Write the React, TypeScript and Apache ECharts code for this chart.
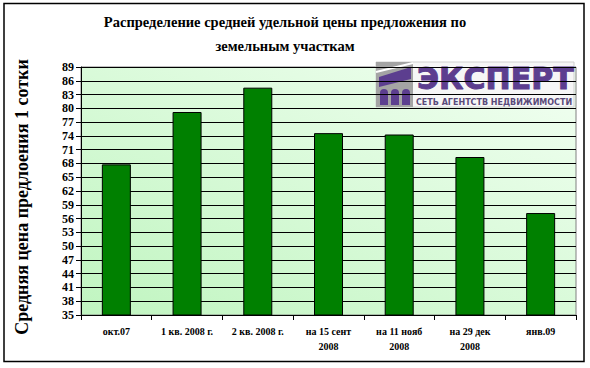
import React, { useEffect, useRef } from "react";
import * as echarts from "echarts";

const categories = [
  "окт.07",
  "1 кв. 2008 г.",
  "2 кв. 2008 г.",
  "на 15 сент\n2008",
  "на 11 нояб\n2008",
  "на 29 дек\n2008",
  "янв.09",
];
const values = [67.8, 79.2, 84.5, 74.6, 74.3, 69.4, 57.2];
const yMin = 35;
const yMax = 89;
const yStep = 3;
const titleText = "Распределение средней удельной цены предложения по\nземельным участкам";
const yName = "Средняя цена предлоения 1 сотки";
const logoMain = "ЭКСПЕРТ";
const logoSub = "СЕТЬ АГЕНТСТВ НЕДВИЖИМОСТИ";

const serif = "Liberation Serif";
const purple = "#5c3e8f";

export default function App() {
  const ref = useRef<HTMLDivElement>(null);
  useEffect(() => {
    document.body.style.margin = "0";
    const chart = echarts.init(ref.current!, null, { renderer: "svg" });
    chart.setOption({
      animation: false,
      backgroundColor: "#ffffff",
      title: {
        text: titleText,
        left: 280,
        top: 5,
        textAlign: "center",
        textStyle: {
          fontFamily: serif,
          fontSize: 14.5,
          fontWeight: "bold",
          color: "#000",
          lineHeight: 24,
        },
      },
      grid: {
        left: 81,
        top: 67,
        right: 14,
        bottom: 53,
        show: true,
        borderColor: "#808080",
        borderWidth: 1,
        backgroundColor: new echarts.graphic.LinearGradient(0, 1, 1, 0, [
          { offset: 0, color: "#c0f5c0" },
          { offset: 1, color: "#f2fff2" },
        ]),
      },
      xAxis: {
        type: "category",
        data: categories,
        axisLine: { lineStyle: { color: "#000", width: 1 } },
        axisTick: { show: true, length: 5, lineStyle: { color: "#000" } },
        axisLabel: {
          fontFamily: serif,
          fontSize: 10,
          fontWeight: "bold",
          color: "#000",
          lineHeight: 15,
          margin: 9,
          interval: 0,
        },
      },
      yAxis: {
        type: "value",
        min: yMin,
        max: yMax,
        interval: yStep,
        name: yName,
        nameLocation: "middle",
        nameRotate: 90,
        nameGap: 50,
        nameTextStyle: {
          fontFamily: serif,
          fontSize: 18,
          fontWeight: "bold",
          color: "#000",
          padding: [0, 0, 0, -12],
        },
        axisLine: { show: true, lineStyle: { color: "#000", width: 1 } },
        axisTick: { show: true, length: 5, lineStyle: { color: "#000" } },
        axisLabel: {
          fontFamily: serif,
          fontSize: 12,
          fontWeight: "bold",
          color: "#000",
          margin: 7,
        },
        splitLine: { show: true, lineStyle: { color: "#000", width: 1 } },
      },
      series: [
        {
          type: "bar",
          data: values,
          barWidth: 29,
          itemStyle: { color: "#008000", borderColor: "#000", borderWidth: 1 },
        },
      ],
      graphic: [
        {
          type: "rect",
          shape: { x: 4, y: 3.5, width: 580, height: 358 },
          style: { fill: "none", stroke: "#000", lineWidth: 1.5 },
          z: 100,
        },
        {
          type: "group",
          x: 376,
          y: 62,
          z: 50,
          children: [
            {
              type: "rect",
              shape: { x: 0, y: 0, width: 198, height: 45 },
              style: { fill: "#f6f6f6", stroke: "#d0d0d0", lineWidth: 1 },
            },
            {
              type: "rect",
              shape: { x: 0, y: 0, width: 37, height: 45 },
              style: { fill: "#a4a4a4" },
            },
            {
              type: "polygon",
              shape: { points: [[3, 15], [35, 5], [35, 17], [3, 25]] },
              style: { fill: purple },
            },
            {
              type: "line",
              shape: { x1: 0, y1: 10, x2: 37, y2: 1 },
              style: { stroke: "#ffffff", lineWidth: 2 },
            },
            {
              type: "rect",
              shape: { x: 4, y: 27, width: 8, height: 16, r: [4, 4, 0, 0] },
              style: { fill: purple },
            },
            {
              type: "rect",
              shape: { x: 15, y: 27, width: 8, height: 16, r: [4, 4, 0, 0] },
              style: { fill: purple },
            },
            {
              type: "rect",
              shape: { x: 26, y: 27, width: 8, height: 16, r: [4, 4, 0, 0] },
              style: { fill: purple },
            },
            {
              type: "text",
              x: 41,
              y: 1,
              style: {
                text: logoMain,
                fontFamily: "DejaVu Sans",
                fontSize: 30,
                fontWeight: "bold",
                fill: purple,
                stroke: purple,
                lineWidth: 1,
              },
            },
            {
              type: "text",
              x: 40,
              y: 36,
              style: {
                text: logoSub,
                fontFamily: "DejaVu Sans",
                fontSize: 8,
                fontWeight: "bold",
                fill: "#5a4a7a",
              },
            },
          ],
        },
      ],
    });
    return () => chart.dispose();
  }, []);
  return <div ref={ref} style={{ width: 590, height: 368 }} />;
}
